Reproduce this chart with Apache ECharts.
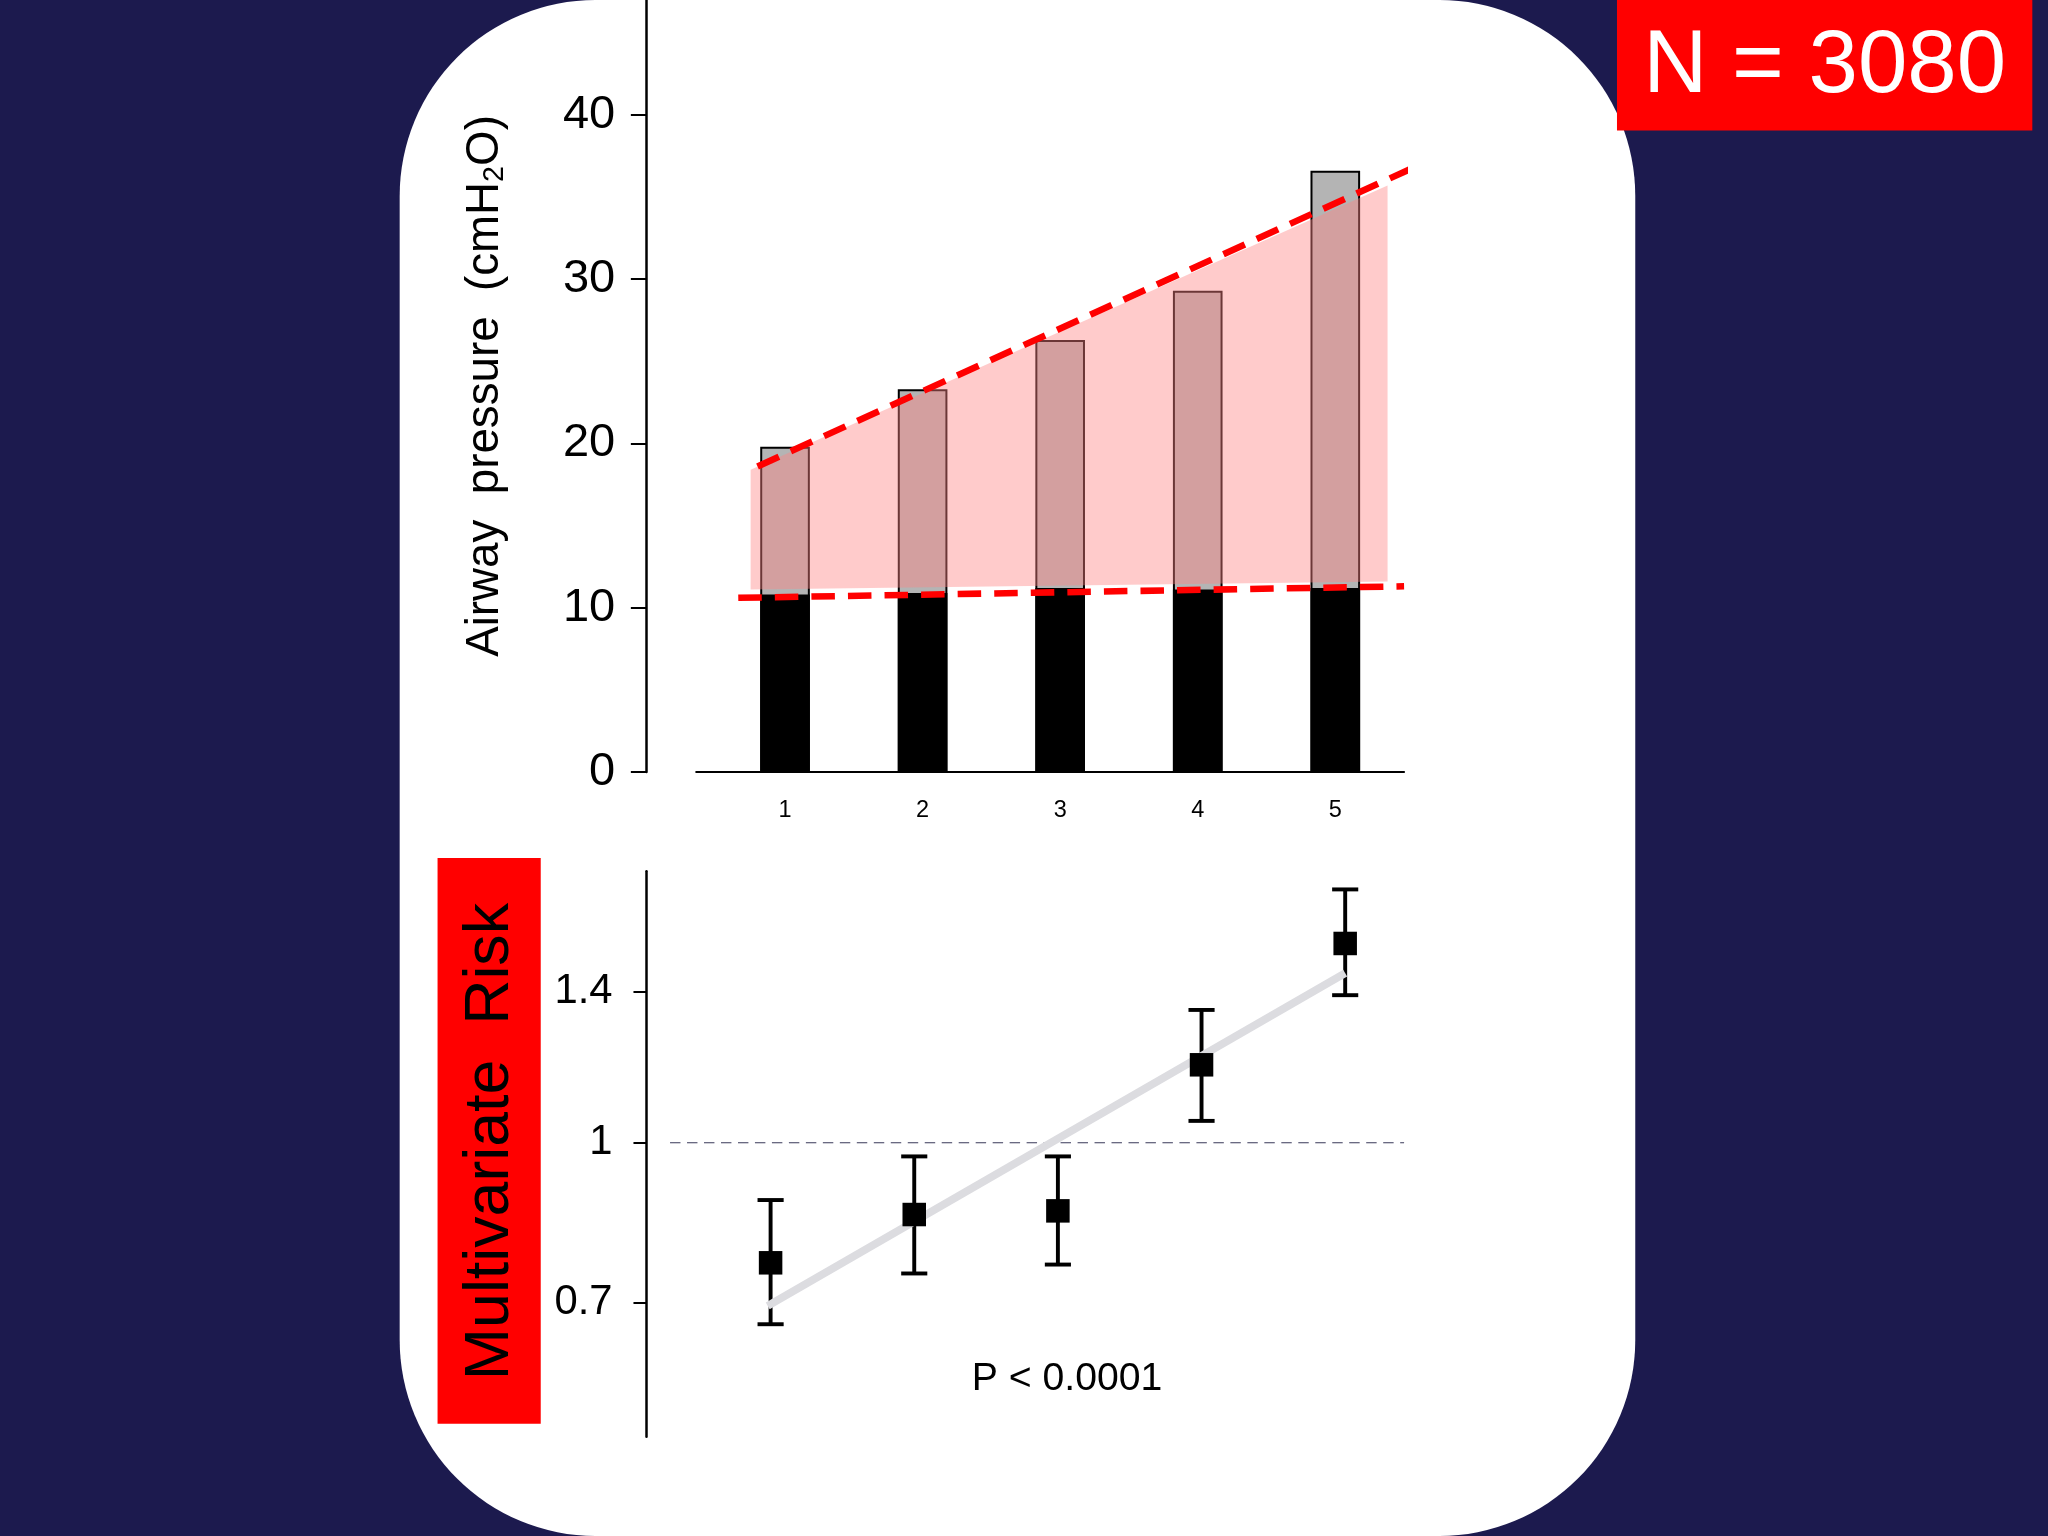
<!DOCTYPE html>
<html>
<head>
<meta charset="UTF-8">
<script src="https://cdn.jsdelivr.net/npm/echarts@6/dist/echarts.min.js"></script>
<style>
  * { margin: 0; padding: 0; }
  body { background: #1c1a4e; }
  #main { width: 2048px; height: 1536px; }
</style>
</head>
<body>
<div id="main"></div>
<script>
  // layout was measured on a 1568 wide copy, scale up
  var s = 2048 / 1568;
  function S(v) { return v * s; }

  // top panel: airway pressure
  var groups = [1, 2, 3, 4, 5];
  var peepVals = [10.8, 10.9, 11.2, 11.1, 11.2];
  var plateauVals = [19.8, 23.3, 26.3, 29.3, 36.6];
  var bandTop = [[0.75, 18.4], [5.38, 35.7]];
  var bandBottom = [[0.75, 11.1], [5.38, 11.6]];
  var trendUpper = [[0.8, 18.6], [5.57, 36.8]];
  var trendLower = [[0.66, 10.6], [5.5, 11.3]];

  // bottom panel: multivariate risk
  var riskVals = [0.765, 0.852, 0.859, 1.19, 1.56];
  var riskLow = [0.667, 0.747, 0.762, 1.05, 1.39];
  var riskHigh = [0.88, 0.97, 0.97, 1.345, 1.76];
  var riskFit = [[0.98, 0.695], [5.0, 1.46]];
  var riskTicks = [0.7, 1, 1.4];

  var ln = Math.log;
  var chart = echarts.init(document.getElementById('main'));
  var font = 'Liberation Sans, Arial, sans-serif';

  chart.setOption({
    backgroundColor: '#1c1a4e',
    animation: false,
    graphic: [
      { type: 'rect', z: -10, shape: { x: S(306), y: 0, width: S(946), height: S(1176), r: S(150) }, style: { fill: '#fff' } },
      { type: 'rect', shape: { x: S(1238), y: 0, width: S(318), height: S(100) }, style: { fill: '#ff0000' } },
      { type: 'text', style: { x: S(1397), y: S(52), text: 'N = 3080', fill: '#fff', font: S(68) + 'px ' + font, textAlign: 'center', textVerticalAlign: 'middle' } },
      { type: 'rect', shape: { x: S(335), y: S(657), width: S(79), height: S(433) }, style: { fill: '#ff0000' } },
      { type: 'text', rotation: Math.PI / 2, x: S(376), y: S(874), style: { x: 0, y: 0, text: 'Multivariate  Risk', fill: '#000', font: S(48) + 'px ' + font, textAlign: 'center', textVerticalAlign: 'middle' } },
      { type: 'text', style: { x: S(817), y: S(1056), text: 'P < 0.0001', fill: '#000', font: S(30) + 'px ' + font, textAlign: 'center', textVerticalAlign: 'middle' } }
    ],
    grid: [
      { left: S(533), right: S(1568 - 1075), top: 0, bottom: S(1176 - 591) },
      { left: S(513), right: S(1568 - 1075), top: S(667), bottom: S(1176 - 1100) }
    ],
    xAxis: [
      { gridIndex: 0, type: 'value', min: 0.354, max: 5.5,
        axisLine: { lineStyle: { color: '#000', width: 2 } }, axisTick: { show: false }, splitLine: { show: false },
        axisLabel: { color: '#000', fontSize: S(18), margin: S(20), fontFamily: font, customValues: groups } },
      { gridIndex: 1, type: 'value', min: 0.3, max: 5.41, show: false }
    ],
    yAxis: [
      { gridIndex: 0, type: 'value', min: 0, max: 47, interval: 10, offset: S(38),
        name: '{a|Airway  pressure  (cmH}{s|2}{a|O)}', nameLocation: 'middle', nameGap: S(105),
        nameTextStyle: { rich: { a: { fontSize: S(35), color: '#000', fontFamily: font }, s: { fontSize: S(22), color: '#000', fontFamily: font, verticalAlign: 'bottom', padding: [S(14), 0, 0, 0] } } },
        axisLine: { show: true, lineStyle: { color: '#000', width: 2.5 } },
        axisTick: { show: true, length: S(12), lineStyle: { color: '#000', width: 2 } },
        splitLine: { show: false },
        axisLabel: { color: '#000', fontSize: S(36), fontFamily: font, margin: S(24), showMaxLabel: false } },
      { gridIndex: 1, type: 'value', min: -0.656, max: 0.606, offset: S(18),
        axisLine: { show: true, lineStyle: { color: '#000', width: 2.5 } },
        axisTick: { show: true, length: S(10), customValues: riskTicks.map(ln), lineStyle: { color: '#000', width: 2 } },
        splitLine: { show: false },
        axisLabel: { color: '#000', fontSize: S(32), fontFamily: font, margin: S(26), customValues: riskTicks.map(ln),
          formatter: function (v) { return String(Math.round(Math.exp(v) * 10) / 10); } } }
    ],
    series: [
      { type: 'bar', xAxisIndex: 0, yAxisIndex: 0, barWidth: S(38), barGap: '-100%',
        data: groups.map(function (g, i) { return [g, plateauVals[i]]; }),
        itemStyle: { color: '#b4b4b4', borderColor: '#000', borderWidth: 2 } },
      { type: 'bar', xAxisIndex: 0, yAxisIndex: 0, barWidth: S(38), barGap: '-100%',
        data: groups.map(function (g, i) { return [g, peepVals[i]]; }),
        itemStyle: { color: '#000' } },
      { type: 'custom', xAxisIndex: 0, yAxisIndex: 0, data: [0], z: 3,
        renderItem: function (params, api) {
          var pts = [bandTop[0], bandTop[1], bandBottom[1], bandBottom[0]].map(function (p) { return api.coord(p); });
          return { type: 'polygon', shape: { points: pts }, style: { fill: 'rgba(255,130,130,0.42)' } };
        } },
      { type: 'line', xAxisIndex: 0, yAxisIndex: 0, data: trendUpper, symbol: 'none', clip: false, z: 4,
        lineStyle: { color: '#ff0000', width: S(5), type: [S(18), S(10)] } },
      { type: 'line', xAxisIndex: 0, yAxisIndex: 0, data: trendLower, symbol: 'none', clip: false, z: 4,
        lineStyle: { color: '#ff0000', width: S(5), type: [S(18), S(10)] } },

      { type: 'line', xAxisIndex: 1, yAxisIndex: 1, data: [[0.3, 0], [5.41, 0]], symbol: 'none',
        lineStyle: { color: '#3a3a5a', width: 1.2, type: [S(8), S(5)] } },
      { type: 'line', xAxisIndex: 1, yAxisIndex: 1, symbol: 'none',
        data: riskFit.map(function (p) { return [p[0], ln(p[1])]; }),
        lineStyle: { color: '#dcdce0', width: S(6) } },
      { type: 'custom', xAxisIndex: 1, yAxisIndex: 1,
        data: groups.map(function (g, i) { return [g, ln(riskLow[i]), ln(riskHigh[i])]; }),
        renderItem: function (params, api) {
          var lo = api.coord([api.value(0), api.value(1)]);
          var hi = api.coord([api.value(0), api.value(2)]);
          var w = S(10), st = { stroke: '#000', lineWidth: S(3) };
          return { type: 'group', children: [
            { type: 'line', shape: { x1: lo[0], y1: lo[1], x2: hi[0], y2: hi[1] }, style: st },
            { type: 'line', shape: { x1: lo[0] - w, y1: lo[1], x2: lo[0] + w, y2: lo[1] }, style: st },
            { type: 'line', shape: { x1: hi[0] - w, y1: hi[1], x2: hi[0] + w, y2: hi[1] }, style: st }
          ] };
        } },
      { type: 'scatter', xAxisIndex: 1, yAxisIndex: 1, symbol: 'rect', symbolSize: S(18), z: 5,
        data: groups.map(function (g, i) { return [g, ln(riskVals[i])]; }),
        itemStyle: { color: '#000', opacity: 1 } }
    ]
  });
</script>
</body>
</html>
